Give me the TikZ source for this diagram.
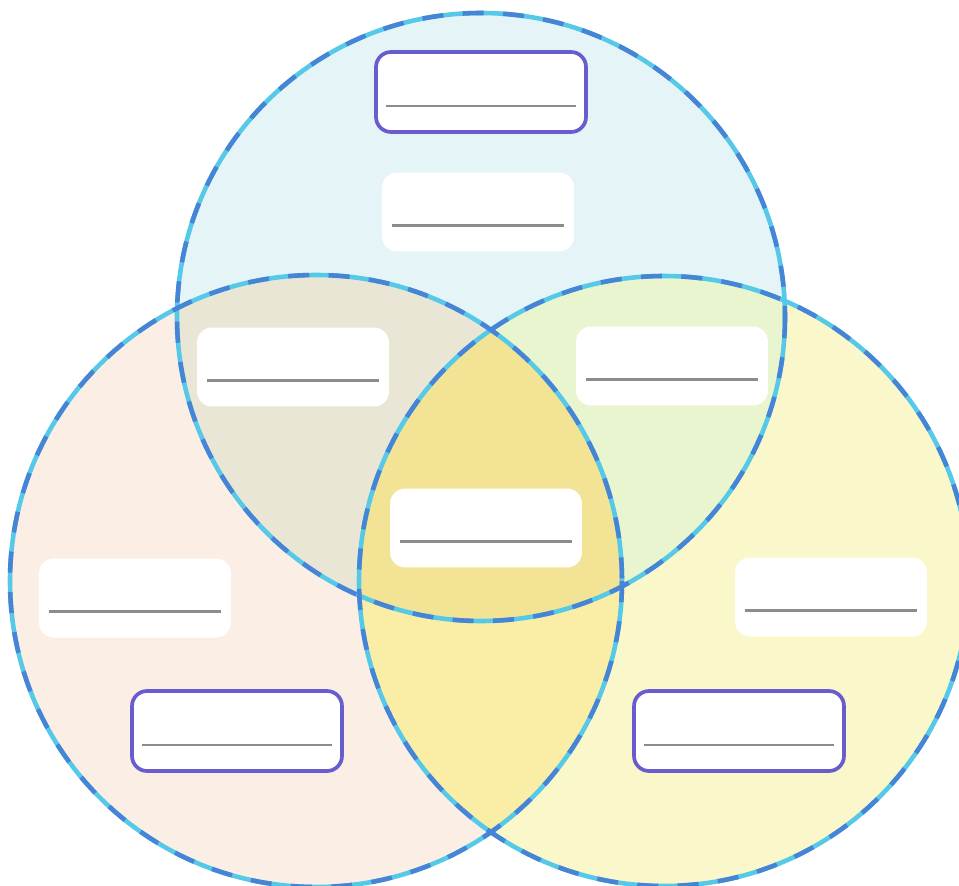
\documentclass[tikz,border=0pt]{standalone}
\usepackage{color}
\usepackage{tikz}

\definecolor{topfill}{RGB}{229,244,247}
\definecolor{leftfill}{RGB}{251,238,228}
\definecolor{rightfill}{RGB}{250,248,202}
\definecolor{tlfill}{RGB}{234,230,214}
\definecolor{trfill}{RGB}{233,245,206}
\definecolor{lrfill}{RGB}{250,237,165}
\definecolor{midfill}{RGB}{242,228,148}
\definecolor{ringcyan}{RGB}{86,200,232}
\definecolor{ringblue}{RGB}{70,132,214}
\definecolor{boxpurple}{RGB}{104,92,206}
\definecolor{writegray}{RGB}{140,140,140}

\begin{document}
\begin{tikzpicture}[x=0.02cm, y=-0.02cm,
	labelbox/.style={shape=rectangle, fill=white, rounded corners=0.3cm, inner sep=0pt,
		minimum width=3.84cm, minimum height=1.58cm,
		path picture={\draw[writegray, line width=1.4pt]
			([xshift=0.2cm, yshift=0.52cm]path picture bounding box.south west) --
			([xshift=-0.2cm, yshift=0.52cm]path picture bounding box.south east);}},
	framebox/.style={labelbox, draw=boxpurple, line width=2.1pt,
		minimum width=4.2cm, minimum height=1.6cm},
	ring/.style={draw=ringcyan, line width=2.6pt},
	ringdash/.style={draw=ringblue, line width=2.6pt, dash pattern=on 12pt off 11pt}]
	
	\useasboundingbox (0,0) rectangle (959,885);
	
	\coordinate (t) at (481,317);
	\coordinate (l) at (316,581);
	\coordinate (r) at (664,581);
	
	% fills
	\fill[topfill]   (t) circle [radius=304];
	\fill[leftfill]  (l) circle [radius=306];
	\fill[rightfill] (r) circle [radius=305];
	\begin{scope}
		\clip (l) circle [radius=306];
		\fill[lrfill] (r) circle [radius=305];
	\end{scope}
	\begin{scope}
		\clip (t) circle [radius=304];
		\fill[tlfill] (l) circle [radius=306];
		\fill[trfill] (r) circle [radius=305];
		\clip (l) circle [radius=306];
		\fill[midfill] (r) circle [radius=305];
	\end{scope}
	
	% outlines
	\path[ring] (t) circle [radius=304];
	\path[ring] (l) circle [radius=306];
	\path[ring] (r) circle [radius=305];
	\path[ringdash] (t) circle [radius=304];
	\path[ringdash] (l) circle [radius=306];
	\path[ringdash] (r) circle [radius=305];
	
	% boxes
	\node[framebox] (topname)   at (481,92)  {};
	\node[labelbox] (top)       at (478,212) {};
	\node[labelbox] (topleft)   at (293,367) {};
	\node[labelbox] (topright)  at (672,366) {};
	\node[labelbox] (middle)    at (486,528) {};
	\node[labelbox] (left)      at (135,598) {};
	\node[labelbox] (right)     at (831,597) {};
	\node[framebox] (leftname)  at (237,731) {};
	\node[framebox] (rightname) at (739,731) {};
	
\end{tikzpicture}
\end{document}
